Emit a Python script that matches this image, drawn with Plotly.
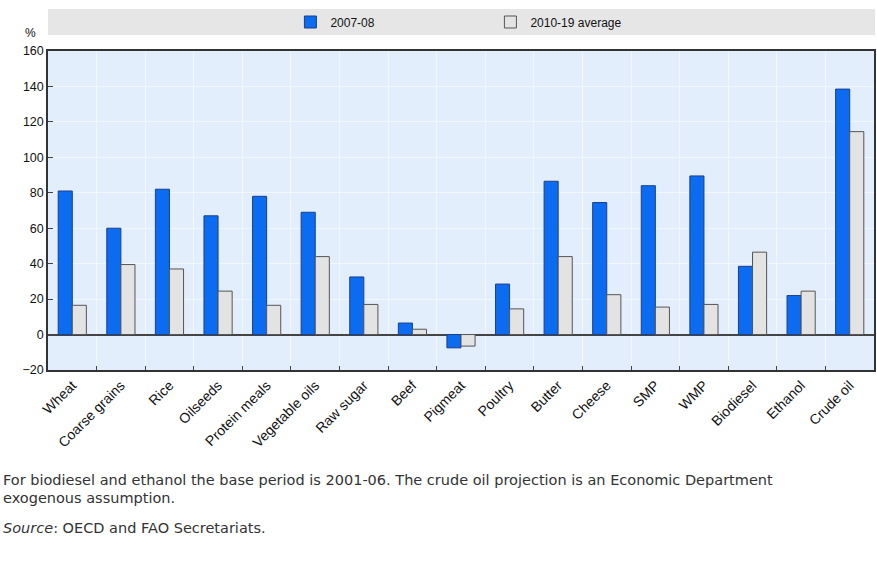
import plotly.graph_objects as go

# Price changes by commodity (%)
categories = ["Wheat", "Coarse grains", "Rice", "Oilseeds", "Protein meals",
              "Vegetable oils", "Raw sugar", "Beef", "Pigmeat", "Poultry",
              "Butter", "Cheese", "SMP", "WMP", "Biodiesel", "Ethanol", "Crude oil"]
peak_2007_08 = [81, 60, 82, 67, 78, 69, 32.5, 6.5, -7.5, 28.5,
                86.5, 74.5, 84, 89.5, 38.5, 22, 138.5]
avg_2010_19 = [16.5, 39.5, 37, 24.5, 16.5, 44, 17, 3, -6.5, 14.5,
               44, 22.5, 15.5, 17, 46.5, 24.5, 114.5]

series_names = ["2007-08", "2010-19 average"]
y_ticks = [-20, 0, 20, 40, 60, 80, 100, 120, 140, 160]

note_lines = [
    "For biodiesel and ethanol the base period is 2001-06. The crude oil projection is an Economic Department",
    "exogenous assumption.",
]
source_text = "<i>Source</i>: OECD and FAO Secretariats."

W, H = 877, 570
L, R, T, B = 48, 1, 51, 200
plot_h = H - T - B
plot_w = W - L - R

fig = go.Figure()
fig.add_trace(go.Bar(
    x=categories, y=peak_2007_08, name=series_names[0],
    marker=dict(color="#0b6cf2", line=dict(color="#1c3f86", width=1)),
))
fig.add_trace(go.Bar(
    x=categories, y=avg_2010_19, name=series_names[1],
    marker=dict(color="#e3e3e3", line=dict(color="#555555", width=1)),
))


def py(pix):
    """Convert a page pixel row to paper y."""
    return (H - B - pix) / plot_h


def px(pix):
    """Convert a page pixel column to paper x."""
    return (pix - L) / plot_w


sans = "Liberation Sans, Arial, sans-serif"
note_font = dict(family="DejaVu Sans, Verdana, sans-serif", size=14.5, color="#333333")

annotations = [
    dict(text="%", xref="paper", yref="paper", x=px(30), y=py(33),
         xanchor="center", yanchor="middle", showarrow=False,
         font=dict(family=sans, size=12, color="#111111")),
]
for row, line in zip([480, 498], note_lines):
    annotations.append(dict(text=line, xref="paper", yref="paper", x=px(1), y=py(row),
                            xanchor="left", yanchor="middle", showarrow=False,
                            font=note_font))
annotations.append(dict(text=source_text, xref="paper", yref="paper", x=px(1), y=py(528),
                        xanchor="left", yanchor="middle", showarrow=False,
                        font=note_font))

fig.update_layout(
    width=W, height=H,
    margin=dict(l=L, r=R, t=T, b=B),
    paper_bgcolor="white",
    plot_bgcolor="#e2eefb",
    barmode="group",
    bargap=0.42,
    bargroupgap=0,
    showlegend=True,
    legend=dict(
        orientation="h",
        x=px(291), xanchor="left",
        y=py(22), yanchor="middle",
        bgcolor="rgba(0,0,0,0)",
        font=dict(family=sans, size=12, color="#111111"),
        entrywidth=155, entrywidthmode="pixels",
        traceorder="normal",
    ),
    xaxis=dict(
        type="category",
        tickson="boundaries",
        showgrid=True, gridcolor="#f2f7fd", gridwidth=1,
        ticks="inside", ticklen=4, tickcolor="#444444",
        tickangle=-45,
        tickfont=dict(family=sans, size=14, color="#111111"),
        showline=True, linecolor="#333333", linewidth=1.5,
        mirror=True,
        zeroline=False,
    ),
    yaxis=dict(
        range=[-20, 160],
        tickvals=y_ticks,
        showgrid=True, gridcolor="#f2f7fd", gridwidth=1,
        ticks="inside", ticklen=5, tickcolor="#444444",
        tickfont=dict(family=sans, size=12.5, color="#111111"),
        showline=True, linecolor="#333333", linewidth=1.5,
        mirror=True,
        zeroline=True, zerolinecolor="#444444", zerolinewidth=1.5,
    ),
    shapes=[
        # grey band behind the legend
        dict(type="rect", xref="paper", yref="paper",
             x0=px(48), x1=px(877), y0=py(35), y1=py(9),
             fillcolor="#e6e6e6", line=dict(width=0), layer="below"),
    ],
    annotations=annotations,
)

fig.write_html("out.html")
